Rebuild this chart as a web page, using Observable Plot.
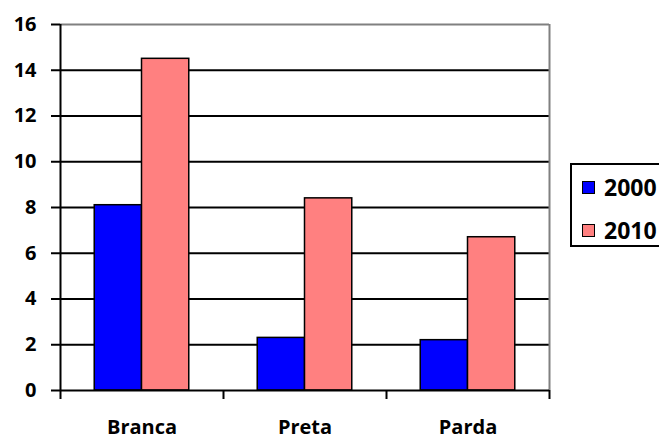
<!DOCTYPE html>
<html>
<head>
<meta charset="utf-8">
<script src="https://cdn.jsdelivr.net/npm/d3@7"></script>
<script src="https://cdn.jsdelivr.net/npm/@observablehq/plot@0.6"></script>
<style>
  html, body { margin: 0; padding: 0; background: #fff; overflow: hidden; }
  #wrap { position: relative; width: 659px; height: 439px; font-family: "Open Sans", sans-serif; font-weight: 700; }
  #legend { position: absolute; left: 570px; top: 163px; width: 89px; height: 84px; border: 2px solid #000; border-right: none; box-sizing: border-box; background: #fff; overflow: hidden; }
  .item { position: absolute; left: 10px; display: flex; align-items: center; font-size: 23px; line-height: 1; color: #000; white-space: nowrap; }
  .sw { width: 11px; height: 11px; border: 1.5px solid #000; margin-right: 9px; flex: none; }
</style>
</head>
<body>
<div id="wrap"></div>
<script>
const categories = ["Branca", "Preta", "Parda"];
const years = ["2000", "2010"];
const values2000 = [8.1, 2.3, 2.2];
const values2010 = [14.5, 8.4, 6.7];
const yTicks = [0, 2, 4, 6, 8, 10, 12, 14, 16];
const colors = ["#0000FF", "#FF8080"];

const barWidth = 0.29; // in category units
const rows = [];
categories.forEach((c, i) => {
  rows.push({cat: c, i, year: years[0], value: values2000[i]});
  rows.push({cat: c, i, year: years[1], value: values2010[i]});
});
const boundaries = [...categories.map((_, i) => i - 0.5), categories.length - 0.5];

const chart = Plot.plot({
  width: 659,
  height: 439,
  marginLeft: 60,
  marginRight: 110,
  marginTop: 24,
  marginBottom: 49,
  style: {fontFamily: "Open Sans, sans-serif", fontWeight: 700, fontSize: "20px", color: "#000", background: "#fff"},
  x: {domain: [-0.5, categories.length - 0.5]},
  y: {domain: [0, 16]},
  color: {domain: years, range: colors},
  marks: [
    Plot.ruleY(yTicks.filter(t => t > 0 && t < 16), {stroke: "#000", strokeWidth: 2}),
    Plot.ruleY([16], {stroke: "#808080", strokeWidth: 2}),
    Plot.ruleX([categories.length - 0.5], {stroke: "#808080", strokeWidth: 2}),
    Plot.rectY(rows, {
      x1: d => d.year === years[0] ? d.i - barWidth : d.i,
      x2: d => d.year === years[0] ? d.i : d.i + barWidth,
      y1: 0,
      y2: "value",
      fill: "year",
      stroke: "#000",
      strokeWidth: 1.5
    }),
    Plot.ruleX([-0.5], {stroke: "#000", strokeWidth: 2}),
    Plot.ruleY([0], {stroke: "#000", strokeWidth: 2}),
    Plot.axisY({ticks: yTicks, tickSize: 9, tickPadding: 15, stroke: "#000", strokeWidth: 2, strokeOpacity: 1, label: null, fontSize: 20}),
    Plot.axisX({ticks: boundaries, tickFormat: () => "", tickSize: 9, stroke: "#000", strokeWidth: 2, strokeOpacity: 1, label: null}),
    Plot.axisX({ticks: categories.map((_, i) => i), tickFormat: i => categories[i], tickSize: 0, tickPadding: 29, label: null, fontSize: 20})
  ]
});

const wrap = document.getElementById("wrap");
wrap.appendChild(chart);

const legend = document.createElement("div");
legend.id = "legend";
years.forEach((y, k) => {
  const item = document.createElement("div");
  item.className = "item";
  item.style.top = (k === 0 ? 11 : 54) + "px";
  const sw = document.createElement("div");
  sw.className = "sw";
  sw.style.background = colors[k];
  const t = document.createElement("span");
  t.textContent = y;
  item.appendChild(sw);
  item.appendChild(t);
  legend.appendChild(item);
});
wrap.appendChild(legend);
</script>
</body>
</html>
